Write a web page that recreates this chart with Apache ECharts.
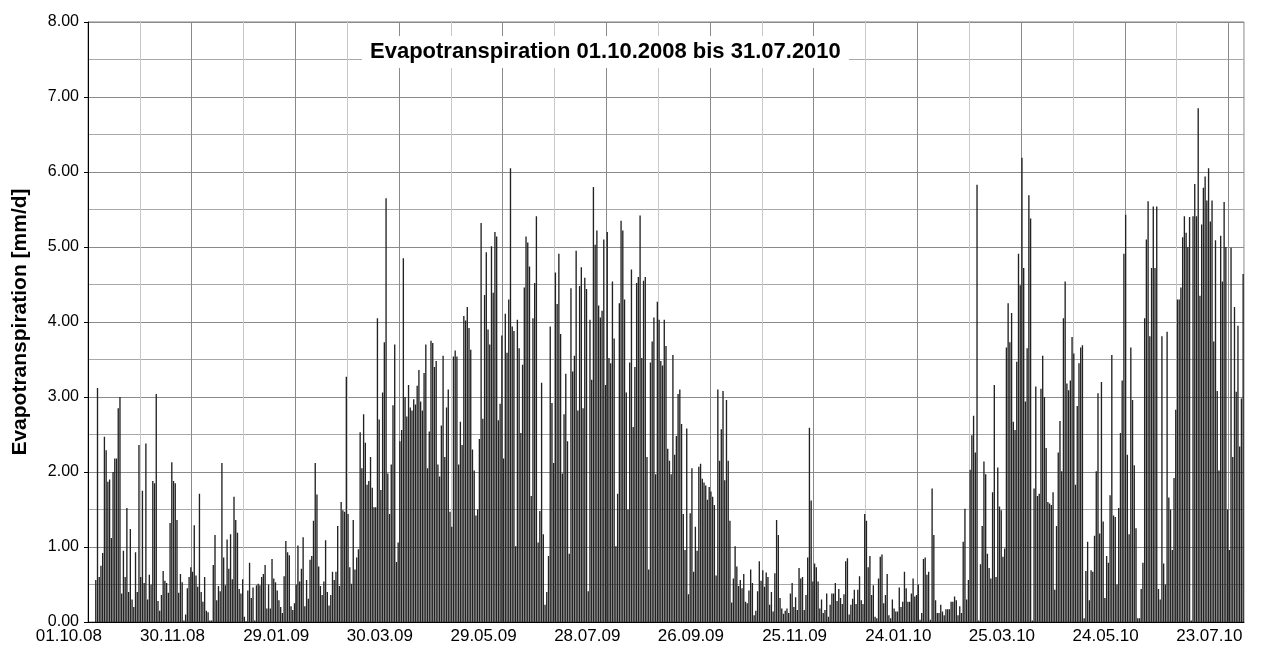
<!DOCTYPE html>
<html>
<head>
<meta charset="utf-8">
<script src="https://cdn.jsdelivr.net/npm/echarts@6/dist/echarts.min.js"></script>
<style>
  html, body { margin: 0; padding: 0; background: #fff; }
  #chart { width: 1272px; height: 652px; }
</style>
</head>
<body>
<div id="chart"></div>
<script>
// daily evapotranspiration [mm/d], 01.10.2008 .. 31.07.2010
const startDate = [2008, 10, 1]

const etOct08 = [0, 0, 0, 0, 0.56, 3.12, 0.6, 0.75, 0.92, 2.47, 2.29, 1.87, 1.9, 1.12, 2.0, 2.18, 2.18, 2.85, 3.0, 0.38, 0.95, 0.6, 1.52, 0.4, 1.24, 0.3, 0.2, 0.93, 0.4, 2.36, 0.6, 1.75, 0.52, 2.38, 0.3, 0.63, 0.5, 1.88, 1.85, 3.04, 0.28, 0.15, 0.36, 0.68, 0.55, 0.52, 0.39, 1.32, 2.13, 1.88, 1.85, 1.36, 0.39, 0.64, 0.53]
const etDec08 = [0.02, 0.1, 0.45, 0.6, 0.73, 0.67, 1.29, 0.62, 0.47, 1.71, 0.4, 0.27, 0.6, 0.15, 0.13, 0.02, 0.02, 0.76, 1.16, 0.29, 0.48, 0.41, 2.12, 0.86, 0.49, 1.1, 0.71, 1.17, 0.57, 1.67, 1.36, 1.19, 0.44, 0.38, 0.57, 0.07, 0.01, 0.42, 0.79, 0.32, 0.46, 0.02, 0.49, 0.51, 0.49, 0.6, 0.64, 0.76, 0.18, 0.5, 0.18, 0.84, 0.58, 0.53, 0.42, 0.29, 0.2]
const etFeb09 = [0.12, 0.61, 1.08, 0.93, 0.89, 0.21, 0.16, 0.25, 0.5, 1.02, 0.54, 0.71, 1.13, 0.21, 0.56, 0.31, 0.83, 0.88, 1.35, 2.12, 1.7, 0.74, 0.48, 0.36, 0.54, 1.09, 0.4, 0.22, 0.36, 0.67, 0.56, 0.67, 1.28, 0.48, 1.6, 1.49, 1.47, 3.27, 1.44, 0.73, 0.51, 1.36, 0.7, 0.86, 0.97, 2.53, 2.05, 2.77, 2.39, 1.83, 1.88, 2.2, 1.79, 1.53, 1.53, 4.05, 2.7]
const etApr09 = [1.76, 3.06, 3.73, 5.65, 1.98, 1.44, 2.1, 2.89, 3.7, 0.8, 1.06, 2.41, 2.56, 4.85, 3.0, 2.74, 3.16, 2.86, 2.82, 2.97, 2.9, 3.15, 3.36, 2.94, 2.82, 3.32, 3.7, 2.05, 2.54, 3.75, 3.72, 3.4, 3.48, 2.1, 1.94, 2.62, 3.55, 2.2, 2.86, 3.1, 1.47, 1.27, 3.54, 3.62, 3.54, 2.1, 2.67, 2.36, 4.08, 4.02, 4.2, 3.92, 3.63, 2.3, 2.02, 1.42, 1.5]
const etJun09 = [2.44, 5.32, 2.71, 4.36, 4.93, 3.9, 3.7, 5.01, 4.39, 5.2, 5.14, 2.69, 2.91, 3.82, 2.18, 4.11, 3.59, 4.3, 6.05, 3.94, 3.88, 1.01, 4.03, 3.65, 2.52, 3.43, 4.46, 5.14, 5.06, 4.74, 1.68, 4.05, 4.52, 5.41, 1.06, 1.48, 3.19, 1.17, 0.23, 0.4, 0.88, 3.94, 2.92, 2.12, 4.66, 4.24, 4.91, 3.84, 1.98, 2.77, 3.31, 2.41, 0.91, 4.45, 3.34, 3.55, 4.95]
const etAug09 = [2.82, 4.48, 4.73, 2.85, 4.59, 4.44, 0.41, 4.03, 3.23, 5.8, 5.03, 5.22, 4.22, 4.06, 4.15, 5.1, 3.16, 5.2, 3.52, 3.45, 4.54, 3.78, 1.01, 1.71, 4.25, 5.35, 5.22, 4.3, 3.06, 1.5, 3.46, 4.7, 2.6, 3.4, 4.52, 4.6, 5.42, 3.52, 4.55, 4.6, 2.2, 0.7, 3.46, 3.74, 4.06, 1.97, 4.27, 4.03, 3.48, 3.42, 4.03, 3.68, 2.31, 2.15, 1.97, 3.56]
const etSep09 = [2.23, 2.48, 3.04, 3.1, 2.64, 1.44, 0.96, 2.58, 0.37, 1.45, 2.05, 0.67, 1.27, 0.95, 2.07, 2.11, 1.91, 1.86, 1.82, 1.63, 1.8, 1.74, 1.67, 1.56, 0.62, 3.1, 2.15, 2.57, 3.08, 1.89, 2.96, 2.15, 1.35, 0.26, 0.58, 1.01, 0.74, 0.48, 0.56, 0.45, 0.64, 0.27, 0.25, 0.42, 0.7, 0.52, 0.09, 0.15, 0.41, 0.81, 0.55, 0.69, 0.47, 0.66, 0.6, 0.23, 0.4]
const etNov09 = [0.14, 0.65, 1.36, 1.16, 0.32, 0.18, 0.11, 0.15, 0.18, 0.12, 0.38, 0.52, 0.2, 0.33, 0.16, 0.72, 0.58, 0.6, 0.16, 0.36, 0.86, 2.59, 1.62, 0.54, 0.78, 0.73, 0.54, 0.18, 0.3, 0.12, 0.16, 0.38, 0.07, 0.23, 0.38, 0.38, 0.52, 0.28, 0.44, 0.32, 0.24, 0.37, 0.81, 0.85, 0.1, 0.23, 0.31, 0.43, 0.24, 0.43, 0.61, 0.29, 0.24, 1.44, 1.35, 0.73, 0.88]
const etJan10 = [0.36, 0.49, 0.07, 0.05, 0.58, 0.87, 0.9, 0.25, 0.36, 0.64, 0.09, 0.05, 0.3, 0.18, 0.14, 0.14, 0.46, 0.2, 0.27, 0.67, 0.45, 0.27, 0.27, 0.38, 0.58, 0.34, 0.36, 0.5, 0.03, 0.12, 0.84, 0.86, 0.63, 0.67, 0.03, 1.78, 1.16, 0.29, 0.12, 0.12, 0.23, 0.14, 0.09, 0.17, 0.17, 0.17, 0.27, 0.27, 0.34, 0.29, 0.09, 0.21, 0.12, 1.07, 1.51, 0.3]
const etMar10 = [0.56, 2.03, 2.49, 2.75, 2.26, 5.83, 0.02, 0.77, 1.28, 2.14, 1.97, 0.91, 0.72, 0.58, 1.73, 3.16, 0.6, 2.06, 1.54, 1.49, 0.87, 0.98, 3.66, 4.25, 3.73, 4.12, 2.67, 2.56, 3.47, 4.91, 4.49, 6.19, 4.72, 2.94, 3.65, 5.69, 5.38, 0.02, 1.78, 3.14, 1.68, 1.71, 3.11, 3.55, 3.0, 2.32, 1.6, 1.58, 1.56, 1.73, 0.43, 1.28, 2.26, 2.68, 2.01, 4.05, 4.54]
const etMay10 = [3.18, 3.09, 3.22, 3.8, 3.58, 1.83, 2.88, 3.45, 3.66, 3.69, 0.05, 0.68, 1.07, 0.29, 0.69, 0.67, 1.15, 2.01, 3.05, 1.18, 3.2, 1.34, 0.32, 0.88, 0.79, 1.69, 3.56, 1.42, 1.4, 0.5, 1.52, 2.52, 3.22, 4.91, 5.43, 2.23, 1.17, 3.66, 2.96, 2.09, 1.25, 0.05, 0.05, 0.44, 0.79, 4.05, 5.1, 5.61, 3.81]
const etJul10 = [4.72, 5.54, 4.72, 5.54, 0.44, 0.3, 3.81, 0.78, 0.5, 3.87, 1.66, 1.5, 0.96, 1.92, 2.83, 4.3, 4.3, 4.46, 5.13, 5.41, 5.19, 5.0, 5.4, 0.02, 5.41, 5.84, 5.41, 6.85, 4.35, 5.3, 5.79, 5.94, 5.62, 6.05, 5.34, 5.62, 3.74, 5.09, 3.08, 2.02, 5.15, 4.54, 5.6, 5.0, 1.5, 0.96, 4.99, 2.2, 4.2, 3.07, 3.95, 2.34, 2.98, 4.64]

const yTicks = [0, 1, 2, 3, 4, 5, 6, 7, 8]
const labelEvery = 60   // a date label (and tick) every 60 days
const gridEvery = 30    // a vertical gridline every 30 days

const values = [].concat(etOct08, etDec08, etFeb09, etApr09, etJun09, etAug09,
  etSep09, etNov09, etJan10, etMar10, etMay10, etJul10)

const pad = n => (n < 10 ? '0' : '') + n
const days = []
for (let i = 0; i < values.length; i++) {
  const d = new Date(Date.UTC(startDate[0], startDate[1] - 1, startDate[2] + i))
  days.push(pad(d.getUTCDate()) + '.' + pad(d.getUTCMonth() + 1) + '.' + String(d.getUTCFullYear()).slice(2))
}

const font = 'Liberation Sans, Arial'

const chart = echarts.init(document.getElementById('chart'))
chart.setOption({
  animation: false,
  title: {
    text: 'Evapotranspiration 01.10.2008 bis 31.07.2010',
    left: 362,
    top: 36,
    backgroundColor: '#fff',
    padding: [5, 8, 5, 8],
    textStyle: { fontFamily: font, fontSize: 22, fontWeight: 'bold', color: '#000' }
  },
  grid: {
    left: 88, right: 28, top: 22, bottom: 30,
    show: true, borderColor: '#808080', borderWidth: 1
  },
  xAxis: {
    type: 'category',
    data: days,
    boundaryGap: true,
    axisLine: { lineStyle: { color: '#000', width: 1 } },
    axisTick: { interval: (i) => i % labelEvery === 0, length: 4, lineStyle: { color: '#000' } },
    axisLabel: {
      interval: (i) => i % labelEvery === 0,
      color: '#000', fontSize: 17, margin: 6, fontFamily: font,
      padding: [0, 40, 0, 0]
    },
    splitLine: {
      show: true, interval: gridEvery - 1,
      lineStyle: { color: ['#8a8a8a', '#c8c8c8'], width: 1 }
    }
  },
  yAxis: {
    type: 'value',
    min: yTicks[0],
    max: yTicks[yTicks.length - 1],
    interval: 1,
    name: 'Evapotranspiration [mm/d]',
    nameLocation: 'middle',
    nameGap: 57,
    nameTextStyle: { fontFamily: font, fontSize: 21, fontWeight: 'bold', color: '#000' },
    axisLine: { show: true, lineStyle: { color: '#000', width: 1 } },
    axisTick: { show: true, length: 4, lineStyle: { color: '#000' } },
    axisLabel: {
      color: '#000', fontSize: 16, margin: 9, fontFamily: font,
      formatter: v => v.toFixed(2)
    },
    splitLine: { lineStyle: { color: '#8a8a8a', width: 1 } },
    minorTick: { show: false, splitNumber: 2 },
    minorSplitLine: { show: true, lineStyle: { color: '#a8a8a8', width: 1 } }
  },
  series: [
    {
      type: 'bar',
      data: values,
      barCategoryGap: '22%',
      itemStyle: { color: '#222' }
    }
  ]
})
</script>
</body>
</html>
